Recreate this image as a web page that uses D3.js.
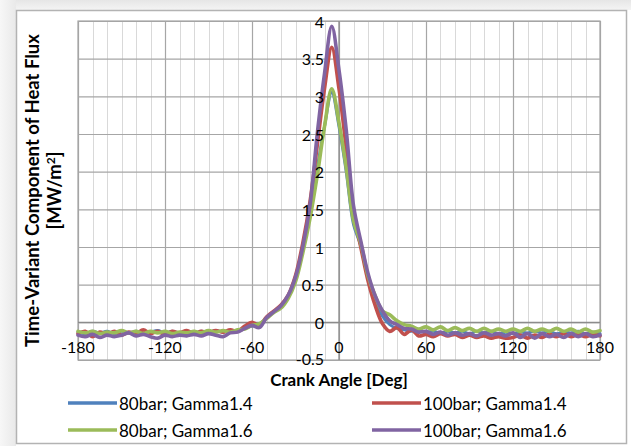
<!DOCTYPE html>
<html>
<head>
<meta charset="utf-8">
<script src="https://cdn.jsdelivr.net/npm/d3@7"></script>
<style>
  html, body { margin: 0; padding: 0; background: #ffffff; }
  svg { display: block; }
  text { font-family: Lato, "Open Sans", sans-serif; fill: #000; }
</style>
</head>
<body>
<svg id="chart" width="631" height="446"></svg>
<script>
// Crank angle samples [deg]
const angles = [
  -180,-175,-170,-165,-160,-155,-150,-145,-140,-135,-130,-125,-120,-115,-110,-105,-100,-95,-90,-85,
  -80,-75,-70,-65,-60,-55,-50,-45,-40,-35,-30,-25,-20,-15,-10,-5,0,5,10,15,
  20,25,30,35,40,45,50,55,60,65,70,75,80,85,90,95,100,105,110,115,
  120,125,130,135,140,145,150,155,160,165,170,175,180
];

// Time-variant heat flux component [MW/m²]
const bar80Gamma14 = [
  -0.13,-0.15,-0.12,-0.14,-0.12,-0.15,-0.12,-0.14,-0.12,-0.15,-0.13,-0.11,-0.14,-0.12,-0.14,-0.12,-0.14,-0.12,-0.13,-0.11,
  -0.13,-0.11,-0.12,-0.08,-0.05,-0.03,0.06,0.14,0.20,0.33,0.56,0.95,1.45,2.05,2.60,3.05,2.60,2.00,1.30,1.02,
  0.60,0.30,0.08,-0.03,-0.08,-0.10,-0.12,-0.10,-0.13,-0.12,-0.14,-0.12,-0.14,-0.12,-0.15,-0.12,-0.14,-0.12,-0.15,-0.13,
  -0.15,-0.13,-0.14,-0.12,-0.14,-0.12,-0.15,-0.13,-0.14,-0.12,-0.15,-0.13,-0.15
];
const bar100Gamma14 = [
  -0.15,-0.12,-0.19,-0.13,-0.16,-0.12,-0.17,-0.13,-0.15,-0.10,-0.15,-0.12,-0.16,-0.12,-0.14,-0.11,-0.15,-0.12,-0.14,-0.11,
  -0.13,-0.10,-0.12,-0.05,0.00,-0.04,0.07,0.15,0.23,0.36,0.62,1.05,1.60,2.35,3.10,3.65,3.10,2.30,1.45,1.00,
  0.55,0.22,-0.02,-0.12,-0.07,-0.16,-0.10,-0.18,-0.16,-0.19,-0.15,-0.18,-0.16,-0.20,-0.17,-0.20,-0.18,-0.21,-0.19,-0.21,
  -0.20,-0.17,-0.21,-0.17,-0.20,-0.16,-0.19,-0.15,-0.19,-0.16,-0.19,-0.16,-0.18
];
const bar80Gamma16 = [
  -0.12,-0.14,-0.12,-0.15,-0.13,-0.14,-0.11,-0.14,-0.12,-0.15,-0.12,-0.14,-0.12,-0.15,-0.13,-0.14,-0.12,-0.14,-0.11,-0.13,
  -0.11,-0.13,-0.10,-0.09,-0.04,-0.02,0.05,0.13,0.19,0.32,0.54,0.92,1.38,1.95,2.60,3.10,2.65,2.05,1.35,1.05,
  0.62,0.35,0.15,0.10,0.02,-0.03,-0.05,-0.09,-0.06,-0.10,-0.06,-0.11,-0.07,-0.11,-0.08,-0.12,-0.08,-0.12,-0.09,-0.12,
  -0.09,-0.12,-0.08,-0.12,-0.09,-0.12,-0.08,-0.12,-0.09,-0.13,-0.09,-0.13,-0.11
];
const bar100Gamma16 = [
  -0.17,-0.19,-0.16,-0.20,-0.17,-0.19,-0.17,-0.14,-0.18,-0.16,-0.19,-0.21,-0.17,-0.19,-0.17,-0.18,-0.16,-0.18,-0.15,-0.17,
  -0.19,-0.14,-0.13,-0.08,-0.04,-0.07,0.06,0.14,0.22,0.36,0.60,1.00,1.55,2.50,3.30,3.93,3.35,2.55,1.55,1.08,
  0.65,0.35,0.15,0.02,-0.03,-0.08,-0.09,-0.13,-0.12,-0.16,-0.13,-0.17,-0.14,-0.17,-0.15,-0.18,-0.14,-0.17,-0.15,-0.18,
  -0.14,-0.20,-0.15,-0.21,-0.15,-0.19,-0.16,-0.20,-0.15,-0.19,-0.15,-0.19,-0.17
];

const seriesNames = ["80bar; Gamma1.4", "100bar; Gamma1.4", "80bar; Gamma1.6", "100bar; Gamma1.6"];
const seriesValues = [bar80Gamma14, bar100Gamma14, bar80Gamma16, bar100Gamma16];
const seriesColors = ["#4f81bd", "#c0504d", "#9bbb59", "#8064a2"];

const xTicks = [-180, -120, -60, 0, 60, 120, 180];
const yTicks = [-0.5, 0, 0.5, 1, 1.5, 2, 2.5, 3, 3.5, 4];

const svg = d3.select("#chart");
const W = 631, H = 446;

// Backdrop shading along the top and left edges, then the white chart frame
const defs = svg.append("defs");
const gTop = defs.append("linearGradient").attr("id", "shadeTop").attr("x1", 0).attr("y1", 0).attr("x2", 0).attr("y2", 1);
gTop.append("stop").attr("offset", "0%").attr("stop-color", "#e6e6e6");
gTop.append("stop").attr("offset", "100%").attr("stop-color", "#f4f4f4");
const gLeft = defs.append("linearGradient").attr("id", "shadeLeft").attr("x1", 0).attr("y1", 0).attr("x2", 1).attr("y2", 0);
gLeft.append("stop").attr("offset", "0%").attr("stop-color", "#f7f7f7");
gLeft.append("stop").attr("offset", "100%").attr("stop-color", "#e9e9e9");

svg.append("rect").attr("x", 0).attr("y", 0).attr("width", W).attr("height", H).attr("fill", "#ffffff");
svg.append("rect").attr("x", 0).attr("y", 0).attr("width", W).attr("height", 10).attr("fill", "url(#shadeTop)");
svg.append("rect").attr("x", 0).attr("y", 0).attr("width", 16).attr("height", H).attr("fill", "url(#shadeLeft)");
svg.append("rect").attr("x", 16.5).attr("y", 10.5).attr("width", 610).attr("height", 433)
  .attr("fill", "#ffffff").attr("stroke", "#b3b3b3").attr("stroke-width", 1.5);

const plot = { left: 78, right: 600, top: 21, bottom: 360 };
const x = d3.scaleLinear().domain([-180, 180]).range([plot.left, plot.right]);
const y = d3.scaleLinear().domain([-0.5, 4]).range([plot.bottom, plot.top]);

// Minor vertical gridlines every 10 deg
const minorX = d3.range(-180, 181, 10).filter(d => d % 60 !== 0);
svg.append("g").selectAll("line").data(minorX).join("line")
  .attr("x1", d => Math.round(x(d)) + 0.5).attr("x2", d => Math.round(x(d)) + 0.5)
  .attr("y1", plot.top).attr("y2", plot.bottom)
  .attr("stroke", "#d9d9d9").attr("stroke-width", 1);

// Major vertical gridlines
svg.append("g").call(
  d3.axisBottom(x).tickValues(xTicks).tickSize(-(plot.bottom - plot.top)).tickFormat("")
).attr("transform", `translate(0,${plot.bottom})`)
  .call(g => g.select(".domain").remove())
  .call(g => g.selectAll("line").attr("stroke", "#a6a6a6").attr("stroke-width", 1.2));

// Horizontal gridlines
svg.append("g").call(
  d3.axisLeft(y).tickValues(yTicks).tickSize(-(plot.right - plot.left)).tickFormat("")
).attr("transform", `translate(${plot.left},0)`)
  .call(g => g.select(".domain").remove())
  .call(g => g.selectAll("line").attr("stroke", "#a6a6a6").attr("stroke-width", 1.2));

// Plot area border
svg.append("rect").attr("x", plot.left).attr("y", plot.top)
  .attr("width", plot.right - plot.left).attr("height", plot.bottom - plot.top)
  .attr("fill", "none").attr("stroke", "#a6a6a6").attr("stroke-width", 1.2);

// Axes crossing at the origin
svg.append("line").attr("x1", x(0)).attr("x2", x(0)).attr("y1", plot.top).attr("y2", plot.bottom)
  .attr("stroke", "#8c8c8c").attr("stroke-width", 1.3);
svg.append("line").attr("x1", plot.left).attr("x2", plot.right).attr("y1", y(0)).attr("y2", y(0))
  .attr("stroke", "#8c8c8c").attr("stroke-width", 1.3);

// Series lines
const line = d3.line()
  .x((d, i) => x(angles[i]))
  .y(d => y(d))
  .curve(d3.curveCatmullRom.alpha(0.5));

svg.append("g").selectAll("path").data(seriesValues).join("path")
  .attr("d", d => line(d))
  .attr("fill", "none")
  .attr("stroke", (d, i) => seriesColors[i])
  .attr("stroke-width", (d, i) => i === 0 ? 3 : 3.6)
  .attr("stroke-linejoin", "round")
  .attr("stroke-linecap", "round");

// Tick labels
svg.append("g").selectAll("text").data(yTicks).join("text")
  .attr("x", x(0) - 15).attr("y", d => y(d) - (d === -0.5 ? 2 : 0))
  .attr("text-anchor", "end").attr("dominant-baseline", "central")
  .style("font-size", "16px")
  .text(d => d);

svg.append("g").selectAll("text").data(xTicks).join("text")
  .attr("x", d => x(d)).attr("y", y(0) + 24)
  .attr("text-anchor", "middle").attr("dominant-baseline", "central")
  .style("font-size", "16px")
  .text(d => d);

// Axis titles
svg.append("text")
  .attr("x", x(0)).attr("y", 386)
  .attr("text-anchor", "middle")
  .style("font-size", "17px").style("font-weight", "bold")
  .text("Crank Angle [Deg]");

const yTitle = svg.append("text")
  .attr("transform", `translate(39,${(plot.top + plot.bottom) / 2}) rotate(-90)`)
  .attr("text-anchor", "middle")
  .style("font-size", "18.5px").style("font-weight", "bold");
yTitle.append("tspan").attr("x", 0).attr("dy", 0).text("Time-Variant Component of Heat Flux");
const t2 = yTitle.append("tspan").attr("x", 0).attr("dy", 22).text("[MW/m");
t2.append("tspan").attr("dy", -6).style("font-size", "12px").text("2");
t2.append("tspan").attr("dy", 6).text("]");

// Legend
const legendItems = [
  { x: 68, y: 403, i: 0 },
  { x: 372, y: 403, i: 1 },
  { x: 68, y: 430, i: 2 },
  { x: 372, y: 430, i: 3 }
];
const lg = svg.append("g").selectAll("g").data(legendItems).join("g")
  .attr("transform", d => `translate(${d.x},${d.y})`);
lg.append("line").attr("x1", 0).attr("x2", 49).attr("y1", 0).attr("y2", 0)
  .attr("stroke", d => seriesColors[d.i]).attr("stroke-width", 3.6);
lg.append("text").attr("x", 51).attr("y", 0)
  .attr("dominant-baseline", "central")
  .style("font-size", "17px")
  .text(d => seriesNames[d.i]);
</script>
</body>
</html>
